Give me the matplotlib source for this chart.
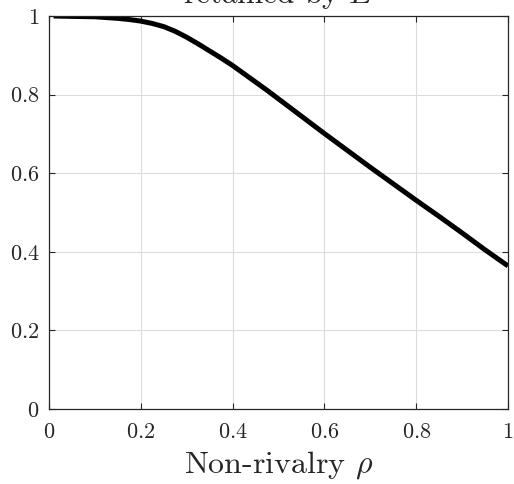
import matplotlib
matplotlib.use("Agg")
import matplotlib.pyplot as plt

plt.rcParams['mathtext.fontset'] = 'cm'
plt.rcParams['font.family'] = 'serif'
plt.rcParams['font.serif'] = ['cmr10', 'DejaVu Serif']
plt.rcParams['axes.formatter.use_mathtext'] = True

# share retained by E as non-rivalry grows
rho = [0.01, 0.05, 0.10, 0.125, 0.15, 0.175, 0.20, 0.225, 0.25, 0.275, 0.30,
       0.325, 0.35, 0.375, 0.40, 0.425, 0.45, 0.475, 0.50, 0.55, 0.60, 0.65,
       0.70, 0.75, 0.80, 0.85, 0.90, 0.95, 1.00]
retained = [1.000, 0.999, 0.998, 0.996, 0.994, 0.991, 0.987, 0.981, 0.973, 0.961, 0.946,
            0.929, 0.911, 0.893, 0.874, 0.853, 0.832, 0.811, 0.789, 0.745, 0.701, 0.658,
            0.615, 0.573, 0.531, 0.490, 0.448, 0.405, 0.364]

xticks = [0, 0.2, 0.4, 0.6, 0.8, 1]
xtick_labels = ['$0$', '$0.2$', '$0.4$', '$0.6$', '$0.8$', '$1$']
yticks = [0, 0.2, 0.4, 0.6, 0.8, 1]
ytick_labels = ['$0$', '$0.2$', '$0.4$', '$0.6$', '$0.8$', '$1$']

fig = plt.figure(figsize=(5.14, 4.84), dpi=100)
ax = fig.add_axes([49 / 514, 1 - 409 / 484, 459 / 514, 393 / 484])

ax.plot(rho, retained, color='black', lw=3.6, solid_capstyle='butt')

ax.set_xlim(0, 1)
ax.set_ylim(0, 1)
ax.set_xticks(xticks)
ax.set_xticklabels(xtick_labels, fontsize=16)
ax.set_yticks(yticks)
ax.set_yticklabels(ytick_labels, fontsize=16)
ax.tick_params(direction='in', length=4, width=0.8, top=True, right=True,
               colors='#262626', labelcolor='#262626', pad=7)
ax.tick_params(axis='x', pad=10)
ax.grid(True, color='#dcdcdc', lw=0.8)
ax.set_axisbelow(True)
for s in ax.spines.values():
    s.set_color('#262626')
    s.set_linewidth(0.9)

ax.set_xlabel(r'Non-rivalry $\rho$', fontsize=23, color='#262626', labelpad=5)
ax.text(0.5, 1 + 13 / 393, r'retained by $E$', transform=ax.transAxes,
        ha='center', va='baseline', fontsize=22.5, color='#262626')

fig.savefig('out.png', dpi=100)
